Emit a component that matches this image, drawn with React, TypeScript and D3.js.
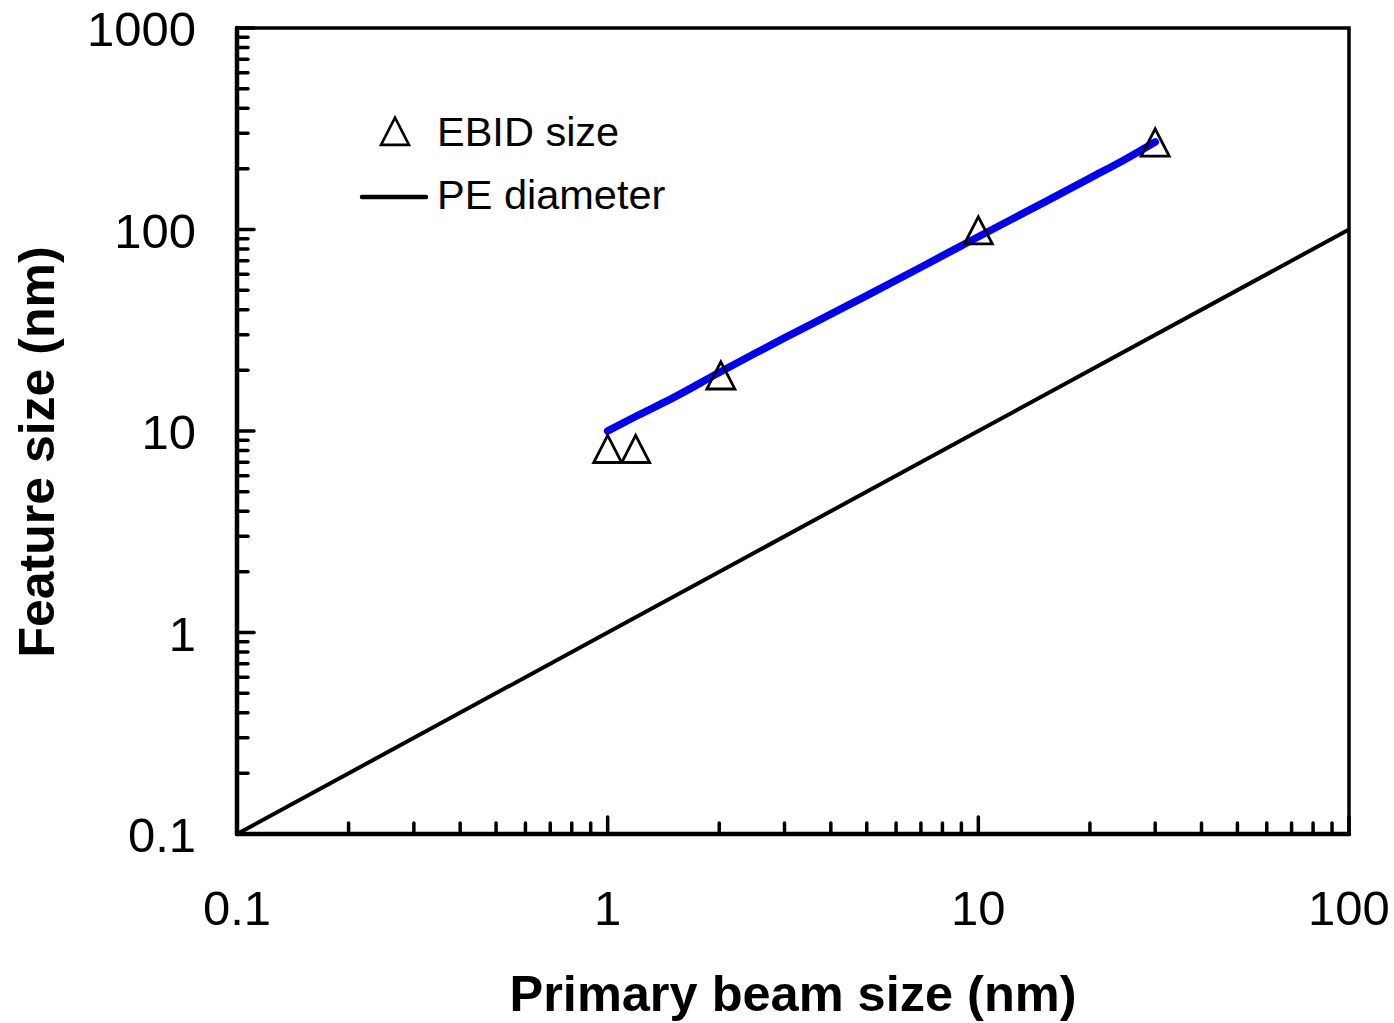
import React from "react";
import * as d3 from "d3";

const xDomain = [0.1, 100];
const yDomain = [0.1, 1000];
const xTickLabels = ["0.1", "1", "10", "100"];
const yTickLabels = ["0.1", "1", "10", "100", "1000"];

const ebidX = [1, 1.19, 2.02, 10, 30];
const ebidY = [7.9, 7.9, 18.3, 96, 262];

const fitX = [1, 1.2, 1.5, 2, 2.5, 3, 4, 5, 7, 10, 15, 20, 25, 30];
const fitY = [10, 11.9, 14.6, 19.5, 24.3, 29, 38, 47, 65, 92, 136, 180, 224, 272];

const peX = [0.1, 1, 10, 100];
const peY = [0.1, 1, 10, 100];

const W = 1394, H = 1023;
const L = 237, R = 1349, T = 28, B = 834;
const FONT = "'Liberation Sans', Arial, Helvetica, sans-serif";

function tri(cx: number, cy: number, s: number) {
  const h = s * 0.97;
  return `M${cx},${cy - h * 0.6}L${cx + s / 2},${cy + h * 0.4}L${cx - s / 2},${cy + h * 0.4}Z`;
}

export default function App() {
  React.useEffect(() => {
    document.body.style.margin = "0";
  }, []);
  const x = d3.scaleLog().domain(xDomain).range([L, R]);
  const y = d3.scaleLog().domain(yDomain).range([B, T]);
  const line = d3.line<[number, number]>().x((d) => x(d[0])).y((d) => y(d[1]));
  const smooth = d3.line<[number, number]>().x((d) => x(d[0])).y((d) => y(d[1])).curve(d3.curveMonotoneX);

  const xMajor = [0.1, 1, 10, 100];
  const yMajor = [0.1, 1, 10, 100, 1000];
  const minors = (dom: number[]) => {
    const out: number[] = [];
    for (let d = dom[0]; d < dom[1] - 1e-9; d *= 10)
      for (let k = 2; k <= 9; k++) out.push(d * k);
    return out;
  };

  return (
    <svg width={W} height={H} style={{ display: "block", background: "#fff" }} fontFamily={FONT}>
      <path d={line(peX.map((v, i) => [v, peY[i]]) as any) || ""} fill="none" stroke="#000" strokeWidth={4} />
      <path d={smooth(fitX.map((v, i) => [v, fitY[i]]) as any) || ""} fill="none" stroke="#0000ee" strokeWidth={7.5} strokeLinecap="round" strokeLinejoin="round" />
      {ebidX.map((v, i) => (
        <path key={i} d={tri(x(v), y(ebidY[i]), 28)} fill="none" stroke="#000" strokeWidth={2.8} />
      ))}
      <rect x={L} y={T} width={R - L} height={B - T} fill="none" stroke="#000" strokeWidth={3.5} />
      <line x1={L} x2={L} y1={T} y2={B} stroke="#000" strokeWidth={4.5} strokeLinecap="round" />
      <line x1={L} x2={R} y1={B} y2={B} stroke="#000" strokeWidth={4.5} strokeLinecap="round" />
      {minors(xDomain).map((v, i) => (
        <line key={"xm" + i} x1={x(v)} x2={x(v)} y1={B} y2={B - 11} stroke="#000" strokeWidth={3.5} strokeLinecap="round" />
      ))}
      {xMajor.map((v, i) => (
        <line key={"xM" + i} x1={x(v)} x2={x(v)} y1={B} y2={B - 17} stroke="#000" strokeWidth={3.5} strokeLinecap="round" />
      ))}
      {minors(yDomain).map((v, i) => (
        <line key={"ym" + i} x1={L} x2={L + 11} y1={y(v)} y2={y(v)} stroke="#000" strokeWidth={3.5} strokeLinecap="round" />
      ))}
      {yMajor.map((v, i) => (
        <line key={"yM" + i} x1={L} x2={L + 17} y1={y(v)} y2={y(v)} stroke="#000" strokeWidth={3.5} strokeLinecap="round" />
      ))}
      {xMajor.map((v, i) => (
        <text key={"xl" + i} x={x(v)} y={925} fontSize={49} textAnchor="middle">{xTickLabels[i]}</text>
      ))}
      {yMajor.map((v, i) => (
        <text key={"yl" + i} x={196} y={y(v) + 18} fontSize={49} textAnchor="end">{yTickLabels[i]}</text>
      ))}
      <text x={793} y={1011} fontSize={50.5} fontWeight="bold" textAnchor="middle">Primary beam size (nm)</text>
      <text transform={`translate(54,452) rotate(-90)`} fontSize={50} fontWeight="bold" textAnchor="middle">Feature size (nm)</text>
      <path d={tri(395, 134, 28)} fill="none" stroke="#000" strokeWidth={2.6} />
      <text x={437} y={146} fontSize={41.5}>EBID size</text>
      <line x1={362} x2={426} y1={197} y2={197} stroke="#000" strokeWidth={4.5} strokeLinecap="round" />
      <text x={437} y={209} fontSize={41.5}>PE diameter</text>
    </svg>
  );
}
